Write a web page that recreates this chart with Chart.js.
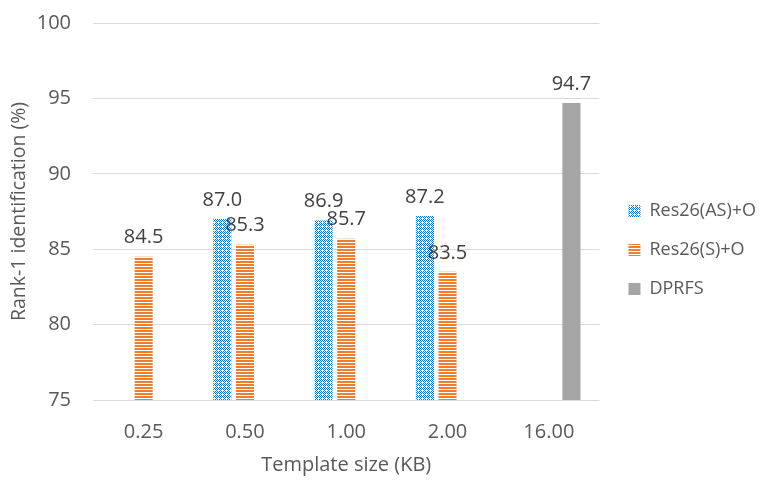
<!DOCTYPE html>
<html>
<head>
<meta charset="utf-8">
<script src="https://cdn.jsdelivr.net/npm/chart.js@4"></script>
<style>
  body { margin: 0; background: #fff; }
  #wrap { width: 776px; height: 484px; }
</style>
</head>
<body>
<div id="wrap"><canvas id="myChart"></canvas></div>
<script>
const categories = ['0.25', '0.50', '1.00', '2.00', '16.00'];
const seriesNames = ['Res26(AS)+O', 'Res26(S)+O', 'DPRFS'];
const resAS = [null, 87.0, 86.9, 87.2, null];
const resS = [84.5, 85.3, 85.7, 83.5, null];
const dprfs = [null, null, null, null, 94.7];
const yTicks = [75, 80, 85, 90, 95, 100];

const textColor = '#595959';
const fontFamily = '"Open Sans", "Noto Sans", sans-serif';

// excel-like fill patterns
function makePattern(kind) {
  const c = document.createElement('canvas');
  const p = c.getContext('2d');
  if (kind === 'check') {
    c.width = 4; c.height = 4;
    p.fillStyle = '#ffffff';
    p.fillRect(0, 0, 4, 4);
    p.fillStyle = '#0070C0';
    for (let y = 0; y < 4; y++) {
      for (let x = 0; x < 4; x++) {
        if ((x + y) % 2 === 0 && !(x === 2 && y === 2)) p.fillRect(x, y, 1, 1);
      }
    }
  } else {
    c.width = 3; c.height = 3;
    p.fillStyle = '#ffffff';
    p.fillRect(0, 0, 3, 3);
    p.fillStyle = '#ED7D31';
    p.fillRect(0, 0, 3, 2);
  }
  return p.createPattern(c, 'repeat');
}

const ctx = document.getElementById('myChart').getContext('2d');
const checkFill = makePattern('check');
const stripeFill = makePattern('stripe');

// value labels above bars
const barLabels = {
  id: 'barLabels',
  afterDatasetsDraw(chart) {
    const c = chart.ctx;
    c.save();
    c.font = '20px ' + fontFamily;
    c.fillStyle = '#404040';
    c.textAlign = 'center';
    c.textBaseline = 'bottom';
    chart.data.datasets.forEach(function (ds, i) {
      const meta = chart.getDatasetMeta(i);
      meta.data.forEach(function (bar, j) {
        const v = ds.data[j];
        if (v === null || v === undefined) return;
        c.fillText(v.toFixed(1), bar.x, bar.y - 9);
      });
    });
    c.restore();
  }
};

// nudge the legend a bit right, like the excel original
const legendShift = {
  id: 'legendShift',
  afterLayout(chart) {
    const l = chart.legend;
    l.left += 8; l.right += 8;
  }
};

new Chart(ctx, {
  type: 'bar',
  data: {
    labels: categories,
    datasets: [
      { label: seriesNames[0], data: resAS, backgroundColor: checkFill, borderWidth: 0 },
      { label: seriesNames[1], data: resS, backgroundColor: stripeFill, borderWidth: 0 },
      { label: seriesNames[2], data: dprfs, backgroundColor: '#A5A5A5', borderWidth: 0 }
    ]
  },
  options: {
    responsive: true,
    maintainAspectRatio: false,
    animation: false,
    datasets: { bar: { categoryPercentage: 0.67, barPercentage: 0.8 } },
    layout: { padding: { top: 23, right: 18, bottom: 7, left: 0 } },
    plugins: {
      tooltip: { enabled: false },
      legend: {
        position: 'right',
        labels: {
          boxWidth: 12,
          boxHeight: 12,
          padding: 21,
          color: textColor,
          font: { family: fontFamily, size: 18 }
        }
      }
    },
    scales: {
      x: {
        afterFit: function (axis) {
          axis.height = 77;
          axis.paddingLeft = 0;
          axis.paddingRight = 0;
        },
        grid: { display: false, drawTicks: false },
        border: { display: false },
        ticks: { color: textColor, padding: 20, font: { family: fontFamily, size: 20 } },
        title: {
          display: true,
          text: 'Template size (KB)',
          color: textColor,
          padding: { top: 11, bottom: 0 },
          font: { family: fontFamily, size: 20 }
        }
      },
      y: {
        min: 75,
        max: 100,
        afterBuildTicks: function (axis) {
          axis.ticks = yTicks.map(function (v) { return { value: v }; });
        },
        afterFit: function (axis) {
          axis.width = 93;
          axis.paddingTop = 0;
          axis.paddingBottom = 0;
        },
        grid: { color: '#D9D9D9', drawTicks: false },
        border: { display: false },
        ticks: { color: textColor, padding: 22, font: { family: fontFamily, size: 20 } },
        title: {
          display: true,
          text: 'Rank-1 identification (%)',
          color: textColor,
          padding: { top: 8, bottom: 0 },
          font: { family: fontFamily, size: 19.5 }
        }
      }
    }
  },
  plugins: [barLabels, legendShift]
});
</script>
</body>
</html>
